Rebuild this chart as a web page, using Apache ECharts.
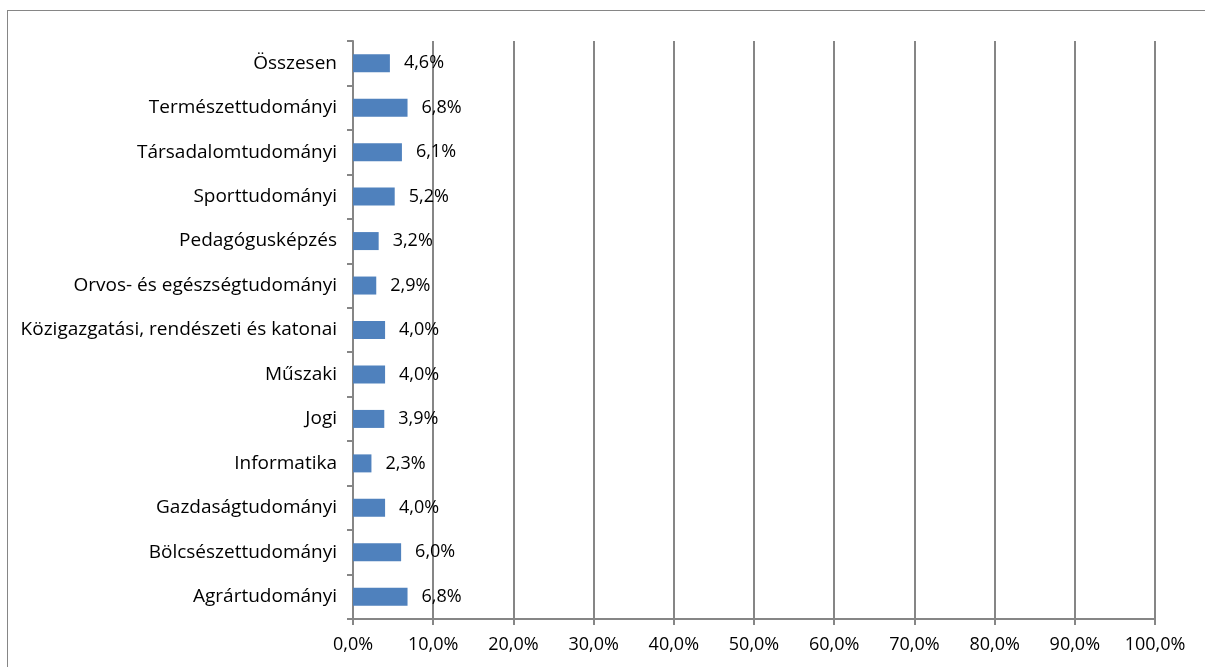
<!DOCTYPE html>
<html lang="hu">
<head>
    <meta charset="UTF-8">
    <title>Arányok tudományterületenként</title>
    <script src="https://cdn.jsdelivr.net/npm/echarts@6/dist/echarts.min.js"></script>
    <style>
        html, body { margin: 0; padding: 0; background: #fff; }
        #chart { width: 1205px; height: 667px; }
        .frame { position: absolute; left: 7px; top: 10px; width: 1205px; height: 670px; border: 1px solid #868686; box-sizing: border-box; pointer-events: none; }
    </style>
</head>
<body>
<div id="chart"></div>
<div class="frame"></div>

<script type="text/javascript">
    // kategóriák alulról felfelé
    var categories = ['Agrártudományi', 'Bölcsészettudományi', 'Gazdaságtudományi', 'Informatika', 'Jogi', 'Műszaki',
        'Közigazgatási, rendészeti és katonai', 'Orvos- és egészségtudományi', 'Pedagógusképzés',
        'Sporttudományi', 'Társadalomtudományi', 'Természettudományi', 'Összesen'];
    var values = [6.8, 6.0, 4.0, 2.3, 3.9, 4.0, 4.0, 2.9, 3.2, 5.2, 6.1, 6.8, 4.6];

    var fmt = function (v) { return v.toFixed(1).replace('.', ',') + '%'; };

    var myChart = echarts.init(document.getElementById('chart'), null, {renderer: 'canvas'});
    var option = {
        animation: false,
        textStyle: { fontFamily: 'Open Sans', color: '#000' },
        grid: { left: 353, right: 50, top: 41, bottom: 48 },
        xAxis: {
            type: 'value',
            min: 0, max: 100, interval: 10,
            axisLine: { show: true, lineStyle: { color: '#868686', width: 2 } },
            axisTick: { show: true, length: 6, lineStyle: { color: '#868686', width: 2 } },
            axisLabel: { formatter: fmt, fontSize: 18, color: '#000', margin: 17, fontFamily: 'Open Sans' },
            splitLine: { show: true, lineStyle: { color: '#868686', width: 2 } }
        },
        yAxis: {
            type: 'category',
            data: categories,
            axisLine: { show: true, lineStyle: { color: '#868686', width: 2 } },
            axisTick: { show: true, length: 6, lineStyle: { color: '#868686', width: 2 } },
            axisLabel: { fontSize: 19, color: '#000', margin: 16, fontFamily: 'Open Sans' }
        },
        series: [{
            type: 'bar',
            data: values,
            barWidth: 18,
            itemStyle: { color: '#4f81bd' },
            label: {
                show: true, position: 'right', distance: 14,
                formatter: function (p) { return fmt(p.value); },
                fontSize: 18, color: '#000', fontFamily: 'Open Sans'
            }
        }]
    };
    myChart.setOption(option);
</script>
</body>
</html>
